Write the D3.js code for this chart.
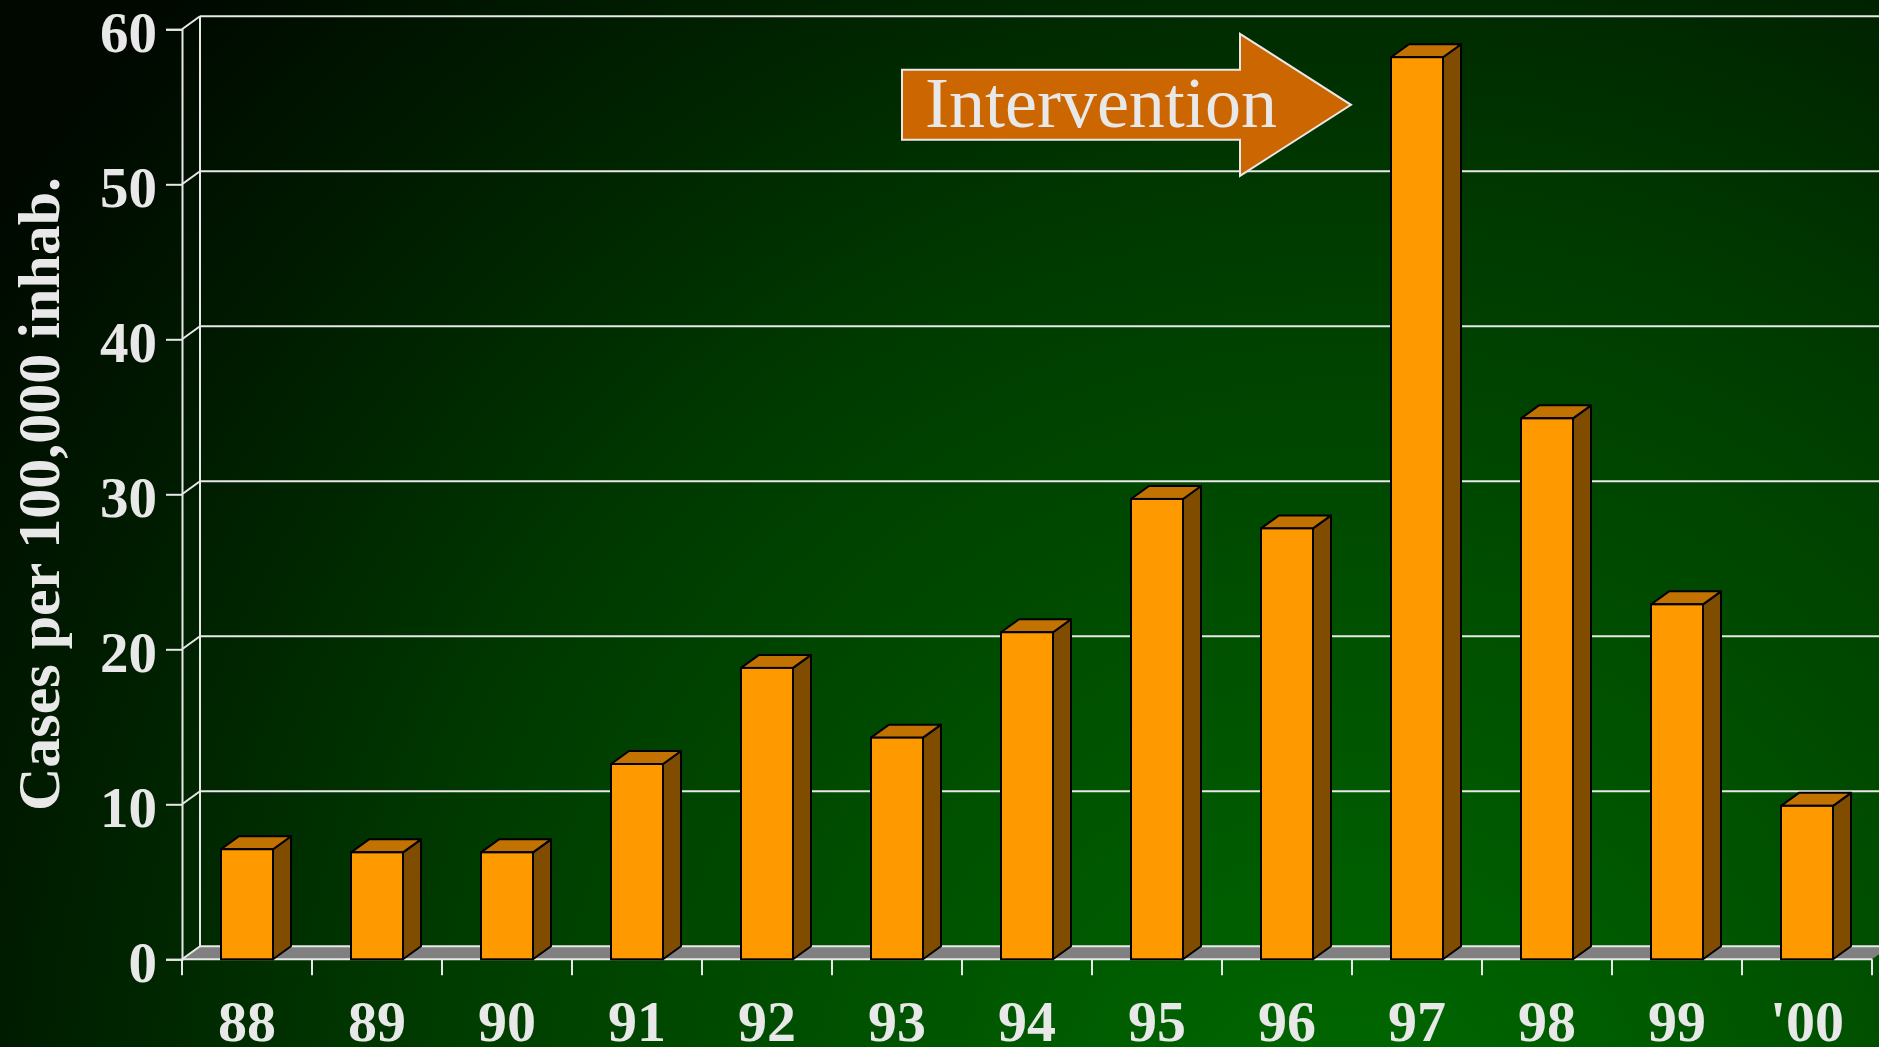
<!DOCTYPE html>
<html>
<head>
<meta charset="utf-8">
<script src="https://cdn.jsdelivr.net/npm/d3@7"></script>
<style>
  body { margin: 0; overflow: hidden; background: #000a00; }
  text { font-family: 'Liberation Serif', 'Times New Roman', serif; }
</style>
</head>
<body>
<div id="chart"></div>
<script>
let years = ['88', '89', '90', '91', '92', '93', '94', '95', '96', '97', '98', '99', "'00"]
let cases = [7.1, 6.9, 6.9, 12.6, 18.8, 14.3, 21.1, 29.7, 27.8, 58.2, 34.9, 22.9, 9.9]
let yTicks = [0, 10, 20, 30, 40, 50, 60]
let yTitle = 'Cases per 100,000 inhab.'
let note = 'Intervention'

let width = 1879
let height = 1047

// depth of the fake 3d box
let dx = 18
let dy = -13

let svg = d3
  .select('#chart')
  .append('svg')
  .attr('width', width)
  .attr('height', height)

let defs = svg.append('defs')
let grad = defs
  .append('radialGradient')
  .attr('id', 'bg')
  .attr('gradientUnits', 'userSpaceOnUse')
  .attr('cx', 1350)
  .attr('cy', 1150)
  .attr('r', 1650)
grad.append('stop').attr('offset', '0%').attr('stop-color', '#006a00')
grad.append('stop').attr('offset', '25%').attr('stop-color', '#005600')
grad.append('stop').attr('offset', '55%').attr('stop-color', '#003c00')
grad.append('stop').attr('offset', '80%').attr('stop-color', '#001e00')
grad.append('stop').attr('offset', '100%').attr('stop-color', '#000800')

svg
  .append('rect')
  .attr('width', width)
  .attr('height', height)
  .attr('fill', 'url(#bg)')

let x = d3.scaleBand().domain(years).range([182, 1872]).padding(0)
let y = d3.scaleLinear().domain([0, 60]).range([959.3, 29.3])

let barW = x.bandwidth() * 0.4
let lineColor = '#e8e8e8'

// floor
let x0 = x.range()[0]
let x1 = x.range()[1]
svg
  .append('path')
  .attr('d', `M${x0},${y(0)}L${x1},${y(0)}L${x1 + dx},${y(0) + dy}L${x0 + dx},${y(0) + dy}Z`)
  .attr('fill', '#808080')

// back wall gridlines
svg
  .append('g')
  .selectAll('line')
  .data(yTicks)
  .enter()
  .append('line')
  .attr('x1', x0 + dx)
  .attr('x2', width + 20)
  .attr('y1', d => y(d) + dy)
  .attr('y2', d => y(d) + dy)
  .attr('stroke', lineColor)
  .attr('stroke-width', 2)

// diagonal connectors from front axis to wall
svg
  .append('g')
  .selectAll('line')
  .data(yTicks)
  .enter()
  .append('line')
  .attr('x1', x0)
  .attr('x2', x0 + dx)
  .attr('y1', d => y(d))
  .attr('y2', d => y(d) + dy)
  .attr('stroke', lineColor)
  .attr('stroke-width', 2)

// back wall left edge
svg
  .append('line')
  .attr('x1', x0 + dx)
  .attr('x2', x0 + dx)
  .attr('y1', y(0) + dy)
  .attr('y2', y(60) + dy)
  .attr('stroke', lineColor)
  .attr('stroke-width', 2)

// front y axis
let yAxis = svg
  .append('g')
  .attr('transform', `translate(${x0},0)`)
  .call(d3.axisLeft(y).tickValues(yTicks).tickSize(16).tickPadding(9))
yAxis.select('.domain').attr('stroke', lineColor).attr('stroke-width', 2)
yAxis.selectAll('.tick line').attr('stroke', lineColor).attr('stroke-width', 2)
yAxis
  .selectAll('.tick text')
  .attr('fill', lineColor)
  .attr('font-size', 57)
  .attr('font-weight', 'bold')
  .attr('font-family', "'Liberation Serif', 'Times New Roman', serif")
  .attr('dy', 22)

// front x axis, ticks on the band edges
svg
  .append('line')
  .attr('x1', x0)
  .attr('x2', x1)
  .attr('y1', y(0))
  .attr('y2', y(0))
  .attr('stroke', lineColor)
  .attr('stroke-width', 2)

svg
  .append('g')
  .selectAll('line')
  .data(years.concat(['end']))
  .enter()
  .append('line')
  .attr('x1', (d, i) => x0 + i * x.step())
  .attr('x2', (d, i) => x0 + i * x.step())
  .attr('y1', y(0))
  .attr('y2', y(0) + 16)
  .attr('stroke', lineColor)
  .attr('stroke-width', 2)

svg
  .append('g')
  .selectAll('text')
  .data(years)
  .enter()
  .append('text')
  .text(d => d)
  .attr('x', d => x(d) + x.bandwidth() / 2)
  .attr('y', 1041)
  .attr('text-anchor', 'middle')
  .attr('fill', lineColor)
  .attr('font-size', 58)
  .attr('font-weight', 'bold')

// bars
let bars = svg
  .append('g')
  .selectAll('.bar')
  .data(years.map((d, i) => ({ year: d, value: cases[i] })))
  .enter()
  .append('g')
  .attr('class', 'bar')

let bx = d => x(d.year) + (x.bandwidth() - barW) / 2

bars
  .append('path')
  .attr('d', d => {
    let l = bx(d)
    let r = l + barW
    let t = y(d.value)
    let b = y(0)
    return `M${r},${t}L${r + dx},${t + dy}L${r + dx},${b + dy}L${r},${b}Z`
  })
  .attr('fill', '#7f4c00')
  .attr('stroke', 'black')
  .attr('stroke-width', 2)
  .attr('stroke-linejoin', 'round')

bars
  .append('path')
  .attr('d', d => {
    let l = bx(d)
    let r = l + barW
    let t = y(d.value)
    return `M${l},${t}L${l + dx},${t + dy}L${r + dx},${t + dy}L${r},${t}Z`
  })
  .attr('fill', '#c27200')
  .attr('stroke', 'black')
  .attr('stroke-width', 2)
  .attr('stroke-linejoin', 'round')

bars
  .append('rect')
  .attr('x', d => bx(d))
  .attr('y', d => y(d.value))
  .attr('width', barW)
  .attr('height', d => y(0) - y(d.value))
  .attr('fill', '#ff9900')
  .attr('stroke', 'black')
  .attr('stroke-width', 2)

// y title
svg
  .append('text')
  .text(yTitle)
  .attr('transform', 'translate(59,494) rotate(-90)')
  .attr('text-anchor', 'middle')
  .attr('fill', lineColor)
  .attr('font-size', 60)
  .attr('font-weight', 'bold')

// intervention arrow, pointing at the 1997 band
let tipX = x('97') - 1
let tipY = y(55) - 2
let arrow = [
  [tipX - 449, tipY - 35],
  [tipX - 111, tipY - 35],
  [tipX - 111, tipY - 71],
  [tipX, tipY],
  [tipX - 111, tipY + 71],
  [tipX - 111, tipY + 35],
  [tipX - 449, tipY + 35]
]
svg
  .append('path')
  .attr('d', d3.line()(arrow) + 'Z')
  .attr('fill', '#cc6600')
  .attr('stroke', lineColor)
  .attr('stroke-width', 2)

svg
  .append('text')
  .text(note)
  .attr('x', tipX - 426)
  .attr('y', tipY + 22)
  .attr('fill', lineColor)
  .attr('font-size', 72)
</script>
</body>
</html>
